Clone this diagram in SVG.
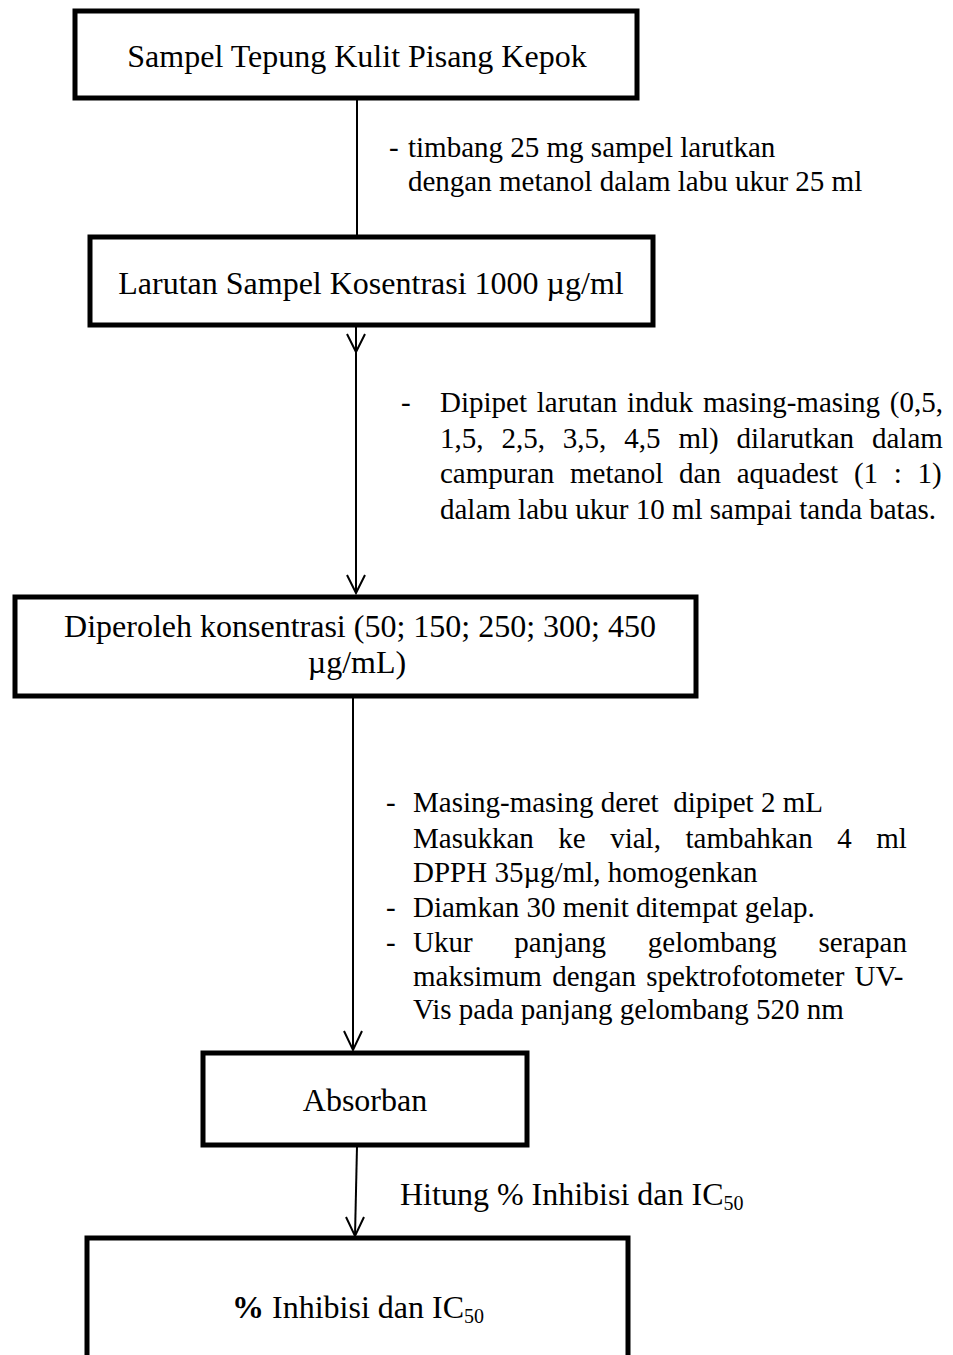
<svg xmlns="http://www.w3.org/2000/svg" width="953" height="1355" viewBox="0 0 953 1355">
  <style>
    .box { fill: #ffffff; stroke: #000000; stroke-width: 5; }
    .wire { fill: none; stroke: #000000; stroke-width: 2; }
    .head { fill: none; stroke: #000000; stroke-width: 2; stroke-linejoin: miter; }
    .t { font-family: "Liberation Serif", "Times New Roman", serif; fill: #000000; }
    .big { font-size: 32px; }
    .note { font-size: 29px; }
    .sub { font-size: 20px; }
    .mid { text-anchor: middle; }
  </style>
  <rect width="953" height="1355" fill="#ffffff"/>

  <!-- connectors -->
  <g id="connectors">
    <line class="wire" x1="357" y1="99" x2="357" y2="236"/>
    <line class="wire" x1="356" y1="326" x2="356" y2="593"/>
    <polyline class="head" points="347,334 356,352 365,334"/>
    <polyline class="head" points="347,575 356,593 365,575"/>
    <line class="wire" x1="353" y1="698" x2="353" y2="1050"/>
    <polyline class="head" points="344,1031 353,1050 362,1031"/>
    <line class="wire" x1="357" y1="1146" x2="355" y2="1236"/>
    <polyline class="head" points="346,1217 355,1236 364,1217"/>
  </g>

  <!-- step 1 -->
  <g id="node-sampel">
    <rect class="box" x="75" y="11" width="562" height="87"/>
    <text class="t big mid" x="357" y="67">Sampel Tepung Kulit Pisang Kepok</text>
  </g>

  <g id="label-timbang">
    <text class="t note" x="389" y="157">-</text>
    <text class="t note" x="408" y="157">timbang 25 mg sampel larutkan</text>
    <text class="t note" x="408" y="191">dengan metanol dalam labu ukur 25 ml</text>
  </g>

  <!-- step 2 -->
  <g id="node-larutan">
    <rect class="box" x="90" y="237" width="563" height="88"/>
    <text class="t big mid" x="371" y="294">Larutan Sampel Kosentrasi 1000 µg/ml</text>
  </g>

  <!-- justified paragraph: words placed one by one -->
  <g id="label-dipipet">
    <text class="t note" x="401" y="412">-</text>
    <text class="t note" y="412"><tspan x="440">Dipipet</tspan> <tspan x="536.8">larutan</tspan> <tspan x="627">induk</tspan> <tspan x="702.9">masing-masing</tspan> <tspan x="889.8">(0,5,</tspan></text>
    <text class="t note" y="448"><tspan x="440">1,5,</tspan> <tspan x="501.4">2,5,</tspan> <tspan x="562.8">3,5,</tspan> <tspan x="624.2">4,5</tspan> <tspan x="678.4">ml)</tspan> <tspan x="736.5">dilarutkan</tspan> <tspan x="872">dalam</tspan></text>
    <text class="t note" y="483"><tspan x="440">campuran</tspan> <tspan x="570">metanol</tspan> <tspan x="679.1">dan</tspan> <tspan x="736.7">aquadest</tspan> <tspan x="853.9">(1</tspan> <tspan x="893.8">:</tspan> <tspan x="917.6">1)</tspan></text>
    <text class="t note" x="440" y="519">dalam labu ukur 10 ml sampai tanda batas.</text>
  </g>

  <!-- step 3 -->
  <g id="node-konsentrasi">
    <rect class="box" x="15" y="597" width="681" height="99"/>
    <text class="t big mid" x="360" y="637">Diperoleh konsentrasi (50; 150; 250; 300; 450</text>
    <text class="t big mid" x="357" y="673">µg/mL)</text>
  </g>

  <g id="label-masing">
    <text class="t note" x="386" y="812">-</text>
    <text class="t note" x="413" y="812" xml:space="preserve">Masing-masing deret  dipipet 2 mL</text>
    <text class="t note" y="848"><tspan x="413">Masukkan</tspan> <tspan x="558.3">ke</tspan> <tspan x="610.2">vial,</tspan> <tspan x="685.5">tambahkan</tspan> <tspan x="837.3">4</tspan> <tspan x="876.3">ml</tspan></text>
    <text class="t note" x="413" y="882">DPPH 35µg/ml, homogenkan</text>
    <text class="t note" x="386" y="917">-</text>
    <text class="t note" x="413" y="917">Diamkan 30 menit ditempat gelap.</text>
    <text class="t note" x="386" y="952">-</text>
    <text class="t note" y="952"><tspan x="413">Ukur</tspan> <tspan x="514.3">panjang</tspan> <tspan x="647.8">gelombang</tspan> <tspan x="818.4">serapan</tspan></text>
    <text class="t note" y="986"><tspan x="413">maksimum</tspan> <tspan x="552.2">dengan</tspan> <tspan x="646.2">spektrofotometer</tspan> <tspan x="854.5">UV-</tspan></text>
    <text class="t note" x="413" y="1019">Vis pada panjang gelombang 520 nm</text>
  </g>

  <!-- step 4 -->
  <g id="node-absorban">
    <rect class="box" x="203" y="1053" width="324" height="92"/>
    <text class="t big mid" x="365" y="1111">Absorban</text>
  </g>

  <g id="label-hitung">
    <text class="t big" x="400" y="1205">Hitung % Inhibisi dan IC<tspan class="sub" dy="5">50</tspan></text>
  </g>

  <!-- result -->
  <g id="node-hasil">
    <rect class="box" x="87" y="1238" width="541" height="200"/>
    <text class="t big" x="232" y="1318"><tspan font-weight="bold">%</tspan> Inhibisi dan IC<tspan class="sub" dy="5">50</tspan></text>
  </g>
</svg>
